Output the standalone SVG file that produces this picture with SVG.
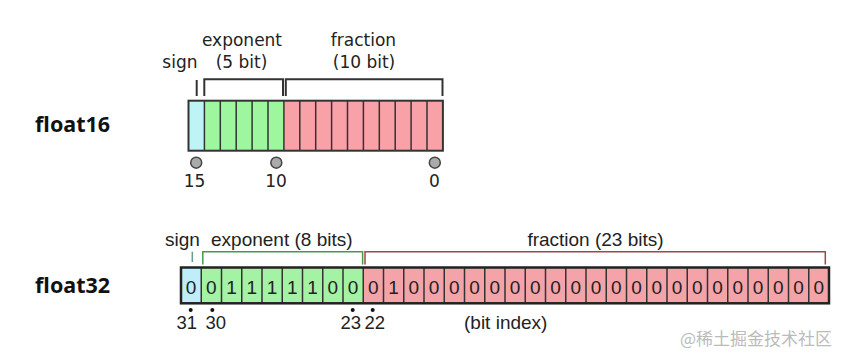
<svg xmlns="http://www.w3.org/2000/svg" width="851" height="361" viewBox="0 0 851 361">
<style>
.title{font-family:"Noto Sans","Liberation Sans",sans-serif;font-weight:bold;font-size:21.5px;fill:#111}
.l16{font-family:"DejaVu Sans",sans-serif;font-size:17px;fill:#222}
.l32{font-family:"Liberation Sans",Arial,sans-serif;font-size:19px;fill:#222}
.d32{font-family:"Liberation Sans",Arial,sans-serif;font-size:19px;fill:#222;text-anchor:middle}
.i32{font-family:"Liberation Sans",Arial,sans-serif;font-size:18.5px;fill:#222}
.div{stroke:#333;stroke-width:1.5}
.br{fill:none;stroke:#333;stroke-width:2}
.dot{fill:#aaa;stroke:#444;stroke-width:1.5}
.wm{font-family:"Noto Sans CJK SC",sans-serif;font-size:17px;fill:#bbb}
</style>
<g id="float16-title"><text class="title" x="35" y="131.7">float16</text></g>
<g id="float32-title"><text class="title" x="35" y="293.3">float32</text></g>

<g id="float16-labels">
<text class="l16" x="162.3" y="68.3">sign</text>
<text class="l16" x="242" y="45.7" text-anchor="middle">exponent</text>
<text class="l16" x="241.5" y="68.3" text-anchor="middle">(5 bit)</text>
<text class="l16" x="363.5" y="45.7" text-anchor="middle">fraction</text>
<text class="l16" x="364" y="68.3" text-anchor="middle">(10 bit)</text>
</g>

<g id="float16-brackets">
<line class="br" x1="196.7" y1="80" x2="196.7" y2="96"/>
<polyline class="br" points="204.3,96 204.3,79.3 283,79.3 283,96"/>
<polyline class="br" points="285.8,96 285.8,79.3 442.5,79.3 442.5,96"/>
</g>

<g id="float16-bar">
<rect x="188.5" y="100.7" width="15.9" height="50" fill="#bff4f7"/>
<rect x="204.4" y="100.7" width="79.5" height="50" fill="#9ef79e"/>
<rect x="283.9" y="100.7" width="159" height="50" fill="#f8a1a6"/>
<g class="div">
<line x1="204.4" y1="100.7" x2="204.4" y2="150.7"/>
<line x1="220.3" y1="100.7" x2="220.3" y2="150.7"/>
<line x1="236.2" y1="100.7" x2="236.2" y2="150.7"/>
<line x1="252.1" y1="100.7" x2="252.1" y2="150.7"/>
<line x1="268" y1="100.7" x2="268" y2="150.7"/>
<line x1="283.9" y1="100.7" x2="283.9" y2="150.7"/>
<line x1="299.8" y1="100.7" x2="299.8" y2="150.7"/>
<line x1="315.7" y1="100.7" x2="315.7" y2="150.7"/>
<line x1="331.6" y1="100.7" x2="331.6" y2="150.7"/>
<line x1="347.5" y1="100.7" x2="347.5" y2="150.7"/>
<line x1="363.4" y1="100.7" x2="363.4" y2="150.7"/>
<line x1="379.3" y1="100.7" x2="379.3" y2="150.7"/>
<line x1="395.2" y1="100.7" x2="395.2" y2="150.7"/>
<line x1="411.1" y1="100.7" x2="411.1" y2="150.7"/>
<line x1="427" y1="100.7" x2="427" y2="150.7"/>
</g>
<rect x="188.5" y="100.7" width="254.4" height="50" fill="none" stroke="#333" stroke-width="2"/>
</g>

<g id="float16-index">
<circle class="dot" cx="196.2" cy="162.7" r="5.5"/>
<circle class="dot" cx="276.3" cy="162.7" r="5.5"/>
<circle class="dot" cx="434.8" cy="162.7" r="5.5"/>
<text class="l16" x="194.5" y="186.7" text-anchor="middle">15</text>
<text class="l16" x="276" y="186.7" text-anchor="middle">10</text>
<text class="l16" x="434.5" y="186.7" text-anchor="middle">0</text>
</g>

<g id="float32-labels">
<text class="l32" x="165" y="245.5">sign</text>
<text class="l32" x="211" y="245.5">exponent (8 bits)</text>
<text class="l32" x="595.5" y="245.5" text-anchor="middle">fraction (23 bits)</text>
</g>

<g id="float32-brackets">
<line x1="192.3" y1="251.7" x2="192.3" y2="262" stroke="#6a9a88" stroke-width="1.5"/>
<polyline points="202.8,264.5 202.8,251.7 362.6,251.7 362.6,264.5" fill="none" stroke="#4a9a4a" stroke-width="1.5"/>
<polyline points="365,264.5 365,251.7 825.3,251.7 825.3,264.5" fill="none" stroke="#a04848" stroke-width="1.5"/>
</g>

<g id="float32-bar">
<rect x="181" y="267.5" width="20.25" height="35.8" fill="#bfeefa"/>
<rect x="201.25" y="267.5" width="162" height="35.8" fill="#a4f2a4"/>
<rect x="363.25" y="267.5" width="465.75" height="35.8" fill="#f4a3a8"/>
<g class="div">
<line x1="201.25" y1="267.5" x2="201.25" y2="303.3"/>
<line x1="221.5" y1="267.5" x2="221.5" y2="303.3"/>
<line x1="241.75" y1="267.5" x2="241.75" y2="303.3"/>
<line x1="262" y1="267.5" x2="262" y2="303.3"/>
<line x1="282.25" y1="267.5" x2="282.25" y2="303.3"/>
<line x1="302.5" y1="267.5" x2="302.5" y2="303.3"/>
<line x1="322.75" y1="267.5" x2="322.75" y2="303.3"/>
<line x1="343" y1="267.5" x2="343" y2="303.3"/>
<line x1="363.25" y1="267.5" x2="363.25" y2="303.3"/>
<line x1="383.5" y1="267.5" x2="383.5" y2="303.3"/>
<line x1="403.75" y1="267.5" x2="403.75" y2="303.3"/>
<line x1="424" y1="267.5" x2="424" y2="303.3"/>
<line x1="444.25" y1="267.5" x2="444.25" y2="303.3"/>
<line x1="464.5" y1="267.5" x2="464.5" y2="303.3"/>
<line x1="484.75" y1="267.5" x2="484.75" y2="303.3"/>
<line x1="505" y1="267.5" x2="505" y2="303.3"/>
<line x1="525.25" y1="267.5" x2="525.25" y2="303.3"/>
<line x1="545.5" y1="267.5" x2="545.5" y2="303.3"/>
<line x1="565.75" y1="267.5" x2="565.75" y2="303.3"/>
<line x1="586" y1="267.5" x2="586" y2="303.3"/>
<line x1="606.25" y1="267.5" x2="606.25" y2="303.3"/>
<line x1="626.5" y1="267.5" x2="626.5" y2="303.3"/>
<line x1="646.75" y1="267.5" x2="646.75" y2="303.3"/>
<line x1="667" y1="267.5" x2="667" y2="303.3"/>
<line x1="687.25" y1="267.5" x2="687.25" y2="303.3"/>
<line x1="707.5" y1="267.5" x2="707.5" y2="303.3"/>
<line x1="727.75" y1="267.5" x2="727.75" y2="303.3"/>
<line x1="748" y1="267.5" x2="748" y2="303.3"/>
<line x1="768.25" y1="267.5" x2="768.25" y2="303.3"/>
<line x1="788.5" y1="267.5" x2="788.5" y2="303.3"/>
<line x1="808.75" y1="267.5" x2="808.75" y2="303.3"/>
</g>
<rect x="181" y="267.5" width="648" height="35.8" fill="none" stroke="#222" stroke-width="2.5"/>
<g class="d32">
<text x="191.1" y="293.5">0</text>
<text x="211.4" y="293.5">0</text>
<text x="231.6" y="293.5">1</text>
<text x="251.9" y="293.5">1</text>
<text x="272.1" y="293.5">1</text>
<text x="292.4" y="293.5">1</text>
<text x="312.6" y="293.5">1</text>
<text x="332.9" y="293.5">0</text>
<text x="353.1" y="293.5">0</text>
<text x="373.4" y="293.5">0</text>
<text x="393.6" y="293.5">1</text>
<text x="413.9" y="293.5">0</text>
<text x="434.1" y="293.5">0</text>
<text x="454.4" y="293.5">0</text>
<text x="474.6" y="293.5">0</text>
<text x="494.9" y="293.5">0</text>
<text x="515.1" y="293.5">0</text>
<text x="535.4" y="293.5">0</text>
<text x="555.6" y="293.5">0</text>
<text x="575.9" y="293.5">0</text>
<text x="596.1" y="293.5">0</text>
<text x="616.4" y="293.5">0</text>
<text x="636.6" y="293.5">0</text>
<text x="656.9" y="293.5">0</text>
<text x="677.1" y="293.5">0</text>
<text x="697.4" y="293.5">0</text>
<text x="717.6" y="293.5">0</text>
<text x="737.9" y="293.5">0</text>
<text x="758.1" y="293.5">0</text>
<text x="778.4" y="293.5">0</text>
<text x="798.6" y="293.5">0</text>
<text x="818.9" y="293.5">0</text>
</g>
</g>

<g id="float32-index">
<circle cx="190.7" cy="310" r="2" fill="#111"/>
<circle cx="212.3" cy="310" r="2" fill="#111"/>
<circle cx="352.7" cy="310" r="2" fill="#111"/>
<circle cx="372.7" cy="310" r="2" fill="#111"/>
<text class="i32" x="176.5" y="328.5">31</text>
<text class="i32" x="205.5" y="328.5">30</text>
<text class="i32" x="340.5" y="328.5">23</text>
<text class="i32" x="364.5" y="328.5">22</text>
<text class="l32" x="464" y="328.5">(bit index)</text>
</g>

<g id="watermark"><text class="wm" x="680" y="345">@稀土掘金技术社区</text></g>
</svg>
